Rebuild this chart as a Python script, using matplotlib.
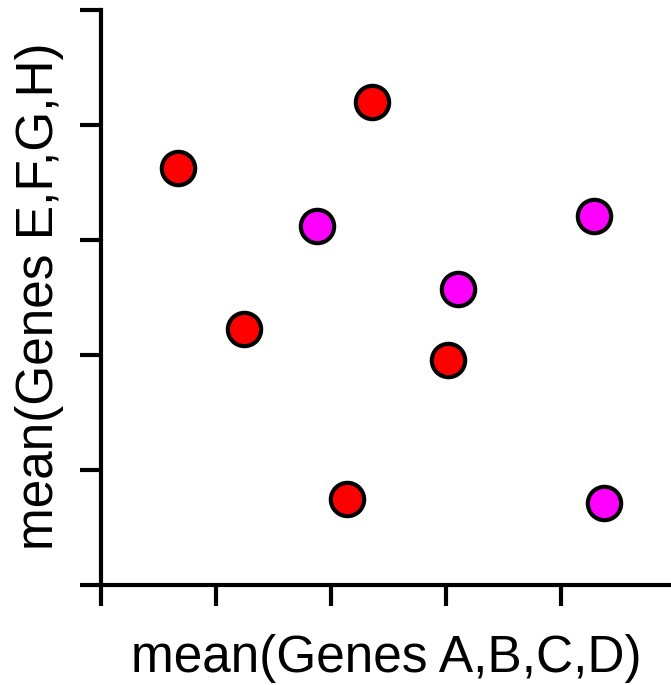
import matplotlib
matplotlib.use("Agg")
import matplotlib.pyplot as plt

red_x = [0.67, 2.36, 1.24, 3.02, 2.14]
red_y = [3.63, 4.20, 2.23, 1.96, 0.75]
mag_x = [1.88, 4.29, 3.10, 4.37]
mag_y = [3.12, 3.21, 2.57, 0.71]
x_ticks = [0, 1, 2, 3, 4]
y_ticks = [0, 1, 2, 3, 4, 5]

plt.rcParams['font.family'] = ['Liberation Sans', 'DejaVu Sans']
fig = plt.figure(figsize=(6.71, 6.85), dpi=100)
ax = fig.add_axes([101/671, 100/685, 570/671, 575/685])
ax.plot(red_x, red_y, 'o', ms=24, mfc='#ff0000', mec='black', mew=3, clip_on=False, ls='none')
ax.plot(mag_x, mag_y, 'o', ms=24, mfc='#ff00ff', mec='black', mew=3, clip_on=False, ls='none')
ax.set_xlim(0, 570/115)
ax.set_ylim(0, 5)
ax.set_xticks(x_ticks)
ax.set_yticks(y_ticks)
ax.set_xticklabels([])
ax.set_yticklabels([])
ax.tick_params(direction='out', length=15, width=3)
for s in ['top', 'right']:
    ax.spines[s].set_visible(False)
for s in ['left', 'bottom']:
    ax.spines[s].set_linewidth(3)
ax.set_xlabel('mean(Genes A,B,C,D)', fontsize=37, va='baseline')
ax.set_ylabel('mean(Genes E,F,G,H)', fontsize=37, va='baseline')
ax.xaxis.set_label_coords(0.5, (585 - 672) / 575)
ax.yaxis.set_label_coords((53 - 101) / 570, (585 - 296) / 575)
fig.savefig('out.png', dpi=100)
